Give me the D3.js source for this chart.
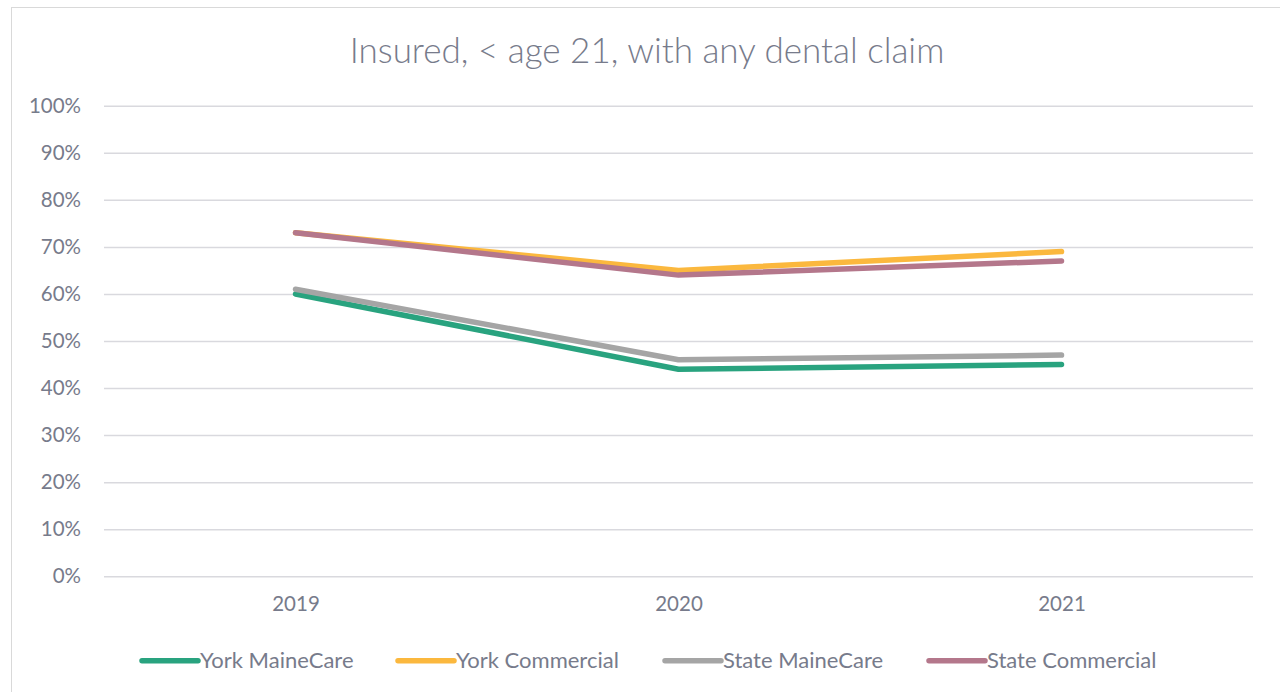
<!DOCTYPE html>
<html>
<head>
<meta charset="utf-8">
<script src="https://cdn.jsdelivr.net/npm/d3@7"></script>
<style>
  html, body { margin: 0; padding: 0; background: #fff; }
  svg { display: block; font-family: Lato, "Open Sans", sans-serif; }
</style>
</head>
<body>
<svg id="chart" width="1280" height="692"></svg>
<script>
var years = ['2019', '2020', '2021'];
var seriesNames = ['York MaineCare', 'York Commercial', 'State MaineCare', 'State Commercial'];
var yorkMaineCare = [0.60, 0.44, 0.45];
var yorkCommercial = [0.73, 0.65, 0.69];
var stateMaineCare = [0.61, 0.46, 0.47];
var stateCommercial = [0.73, 0.64, 0.67];
var yTicks = [0, 0.1, 0.2, 0.3, 0.4, 0.5, 0.6, 0.7, 0.8, 0.9, 1];
var colors = ['#29a37f', '#fbb83e', '#a5a5a5', '#b4778b'];

var values = [yorkMaineCare, yorkCommercial, stateMaineCare, stateCommercial];
var textColor = '#777b8b';

var svg = d3.select('#chart');

svg.append('rect')
  .attr('x', 11.5)
  .attr('y', 7.5)
  .attr('width', 1300)
  .attr('height', 700)
  .attr('fill', '#fff')
  .attr('stroke', '#d9d9d9');

var plot = { left: 104, right: 1253, top: 105.7, bottom: 576.3 };

var x = d3.scalePoint()
  .domain(years)
  .range([plot.left, plot.right])
  .padding(0.5);

var y = d3.scaleLinear()
  .domain([0, 1])
  .range([plot.bottom, plot.top]);

svg.append('text')
  .attr('x', 647)
  .attr('y', 63)
  .attr('text-anchor', 'middle')
  .attr('fill', textColor)
  .style('font-size', '35px')
  .style('font-weight', 300)
  .text('Insured, < age 21, with any dental claim');

var yAxis = svg.append('g')
  .attr('transform', translate(plot.left, 0))
  .call(d3.axisLeft(y)
    .tickValues(yTicks)
    .tickFormat(d3.format('.0%'))
    .tickSize(-(plot.right - plot.left))
    .tickPadding(23));

yAxis.select('.domain').remove();
yAxis.selectAll('.tick line')
  .attr('stroke', '#d9d9de')
  .attr('stroke-width', 1.5);
yAxis.selectAll('.tick text')
  .attr('fill', textColor)
  .style('font-size', '20.5px')
  .style('font-family', 'Lato, sans-serif');

var xAxis = svg.append('g')
  .attr('transform', translate(0, plot.bottom))
  .call(d3.axisBottom(x).tickSize(0).tickPadding(20));

xAxis.select('.domain').remove();
xAxis.selectAll('.tick text')
  .attr('fill', textColor)
  .style('font-size', '20.5px')
  .style('font-family', 'Lato, sans-serif');

var line = d3.line()
  .x(function(d, i) { return x(years[i]); })
  .y(function(d) { return y(d); });

svg.append('g')
  .selectAll('path')
  .data(values)
  .join('path')
    .attr('d', line)
    .attr('fill', 'none')
    .attr('stroke', function(d, i) { return colors[i]; })
    .attr('stroke-width', 5.5)
    .attr('stroke-linecap', 'round')
    .attr('stroke-linejoin', 'round');

// legend
var legendX = [142, 398, 665, 929];
var legend = svg.append('g')
  .selectAll('g')
  .data(seriesNames)
  .join('g')
    .attr('transform', function(d, i) { return translate(legendX[i], 660.7); });

legend.append('line')
  .attr('x1', 0)
  .attr('x2', 56)
  .attr('stroke', function(d, i) { return colors[i]; })
  .attr('stroke-width', 5.5)
  .attr('stroke-linecap', 'round');

legend.append('text')
  .attr('x', 58)
  .attr('dy', '0.35em')
  .attr('fill', textColor)
  .style('font-size', '22px')
  .text(function(d) { return d; });

function translate(x, y) {
  return 'translate(' + x + ',' + y + ')';
}
</script>
</body>
</html>
